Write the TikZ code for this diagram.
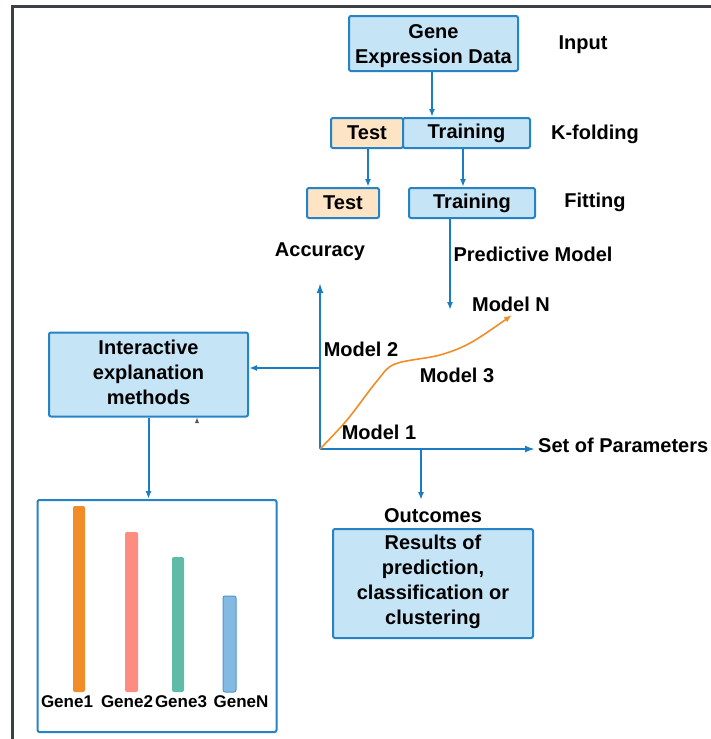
\documentclass[tikz,border=0pt]{standalone}
\usepackage{fontspec}
\setmainfont{Liberation Sans}
\usetikzlibrary{arrows.meta}
\definecolor{boxfill}{HTML}{C5E4F6}
\definecolor{boxline}{HTML}{2683C6}
\definecolor{arrowc}{HTML}{1B7CC1}
\definecolor{testfill}{HTML}{FDE4C5}
\definecolor{framec}{HTML}{3C3F44}
\definecolor{curvec}{HTML}{F28C28}
\definecolor{bar1}{HTML}{F28C28}
\definecolor{bar2}{HTML}{FF8C80}
\definecolor{bar3}{HTML}{5DBBA8}
\definecolor{bar4}{HTML}{84B9E2}
\definecolor{bar4line}{HTML}{4E96D2}
\tikzset{
  txt/.style={font=\fontsize{20}{25}\selectfont\bfseries, inner sep=0pt, align=center},
  bluebox/.style={txt, draw=boxline, fill=boxfill, line width=2pt, rounded corners=2pt},
  testbox/.style={bluebox, fill=testfill},
  conn/.style={draw=arrowc, line width=2pt, -{Latex[length=8pt,width=6pt]}},
  axis/.style={draw=arrowc, line width=2.5pt, -{Latex[length=10pt,width=7pt]}},
  bar/.style={rounded corners=2pt},
  genelbl/.style={txt, font=\fontsize{17}{20}\selectfont\bfseries},
}
\begin{document}
\begin{tikzpicture}[x=1pt,y=-1pt]
\useasboundingbox (0,0) rectangle (710,739);
% outer frame
\draw[framec, line width=3pt] (12,745) -- (12,6) -- (716,6);

% pipeline boxes
\node[bluebox, minimum width=169pt, minimum height=55pt] (ged) at (433.5,43.5) {};
\node[txt] (gedtxt) at (433.5,46) {Gene\\Expression Data};
\node[testbox, minimum width=72pt, minimum height=30pt] (ktest) at (367,133) {Test};
\node[bluebox, minimum width=127pt, minimum height=30pt] (ktrain) at (466.5,133) {Training};
\node[testbox, minimum width=72pt, minimum height=30pt] (ftest) at (343,203) {Test};
\node[bluebox, minimum width=126pt, minimum height=30pt] (ftrain) at (472,203) {Training};

% stage labels
\node[txt] (lin) at (583,45) {Input};
\node[txt] (lkf) at (595,134) {K-folding};
\node[txt] (lfit) at (595,202) {Fitting};
\node[txt] (lpm) at (533,254) {Predictive Model};
\node[txt] (lacc) at (320,252) {Accuracy};

% connector columns
\coordinate (c1) at (432,0);
\coordinate (c2) at (368,0);
\coordinate (c3) at (463,0);
\coordinate (pmend) at (450,310);

% connectors between stages
\draw[conn] (ged.south -| c1) -- (c1 |- ktrain.north);
\draw[conn] (ktest.south -| c2) -- (c2 |- ftest.north);
\draw[conn] (ktrain.south -| c3) -- (c3 |- ftrain.north);
\draw[conn] (ftrain.south -| pmend) -- (pmend);

% axes
\coordinate (orig) at (320,449);
\coordinate (ytop) at (320,283);
\coordinate (xend) at (535,449);
\draw[axis] (orig) -- (ytop);
\draw[axis] (orig) -- (xend);
\node[txt, anchor=west] (lsp) at (538,445) {Set of Parameters};

% model curve
\draw[curvec, line width=1.6pt, -{Latex[length=8pt,width=6pt]}]
  plot[smooth, tension=0.55] coordinates {(320,449) (347,420) (377,381) (395,364) (440,355) (472,342) (512,315)};
\node[txt] (m2) at (361,349) {Model 2};
\node[txt] (m3) at (457,375) {Model 3};
\node[txt] (m1) at (379,432) {Model 1};
\node[txt] (mn) at (511,304) {Model N};

% explanation branch
\node[bluebox, minimum width=199pt, minimum height=84pt] (inter) at (148.5,374.5) {};
\node[txt] (intertxt) at (148.5,372.5) {Interactive\\explanation\\methods};
\coordinate (ybr) at (320,368);
\draw[conn] (ybr) -- (ybr -| inter.east);
\fill[gray!70!black] (195,423) -- (197,418) -- (199,423) -- cycle;

% gene importance panel
\node[draw=boxline, line width=2pt, rounded corners=2pt, minimum width=239pt, minimum height=232pt, inner sep=0pt] (genes) at (157,616) {};
\draw[conn] (inter.south) -- (inter.south |- genes.north);
\fill[bar1, bar] (73,506) rectangle (85,692);
\fill[bar2, bar] (125,532) rectangle (138,692);
\fill[bar3, bar] (172,557) rectangle (184,692);
\filldraw[fill=bar4, draw=bar4line, line width=1pt, bar] (223,596) rectangle (236,692);
\node[genelbl] (g1) at (67,702) {Gene1};
\node[genelbl] (g2) at (127,702) {Gene2};
\node[genelbl] (g3) at (181,702) {Gene3};
\node[genelbl] (gn) at (241,702) {GeneN};

% outcomes branch
\coordinate (xbr) at (421,449);
\coordinate (xbrend) at (421,500);
\draw[conn] (xbr) -- (xbrend);
\node[txt] (lout) at (433,516) {Outcomes};
\node[bluebox, minimum width=200pt, minimum height=109pt] (res) at (433,583.5) {};
\node[txt] (restxt) at (433,582) {Results of\\prediction,\\classification or\\clustering};
\end{tikzpicture}
\end{document}
